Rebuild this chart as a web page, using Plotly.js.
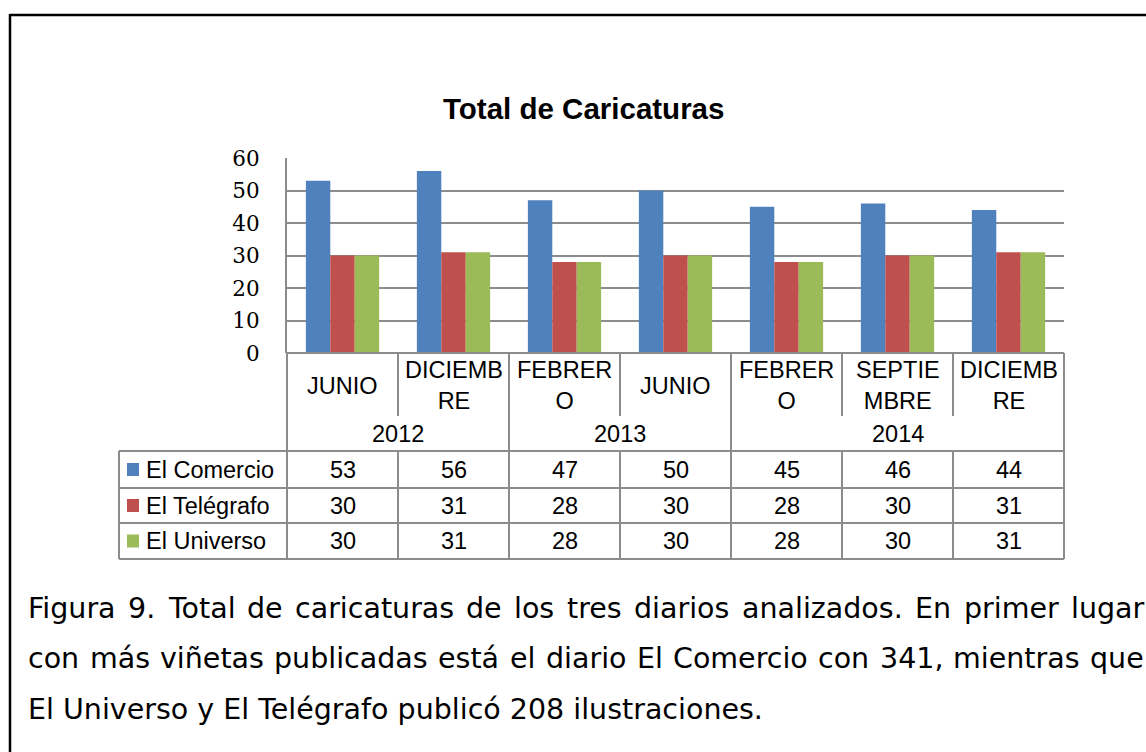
<!DOCTYPE html>
<html>
<head>
<meta charset="utf-8">
<script src="https://cdn.plot.ly/plotly-3.0.1.min.js"></script>
<style>html,body{margin:0;padding:0;background:#fff;}#chart{width:1146px;height:752px;}</style>
</head>
<body>
<div id="chart"></div>
<script>
// ---- data ----
const categoryLabels = ['JUNIO', 'DICIEMB<br>RE', 'FEBRER<br>O', 'JUNIO', 'FEBRER<br>O', 'SEPTIE<br>MBRE', 'DICIEMB<br>RE'];
const years = ['2012', '2012', '2013', '2013', '2014', '2014', '2014'];
const seriesNames = ['El Comercio', 'El Telégrafo', 'El Universo'];
const elComercio = [53, 56, 47, 50, 45, 46, 44];
const elTelegrafo = [30, 31, 28, 30, 28, 30, 31];
const elUniverso = [30, 31, 28, 30, 28, 30, 31];
const seriesColors = ['#4F81BD', '#C0504D', '#9BBB59'];
const chartTitle = 'Total de Caricaturas';
const captionLines = [
  'Figura 9. Total de caricaturas de los tres diarios analizados. En primer lugar',
  'con más viñetas publicadas está el diario El Comercio con 341, mientras que',
  'El Universo y El Telégrafo publicó 208 ilustraciones.'
];

// ---- layout geometry (pixels) ----
const W = 1146, H = 752;
const PL = 287, PR = 1064, PT = 158, PB = 353;
const px = x => (x - PL) / (PR - PL);
const py = y => (PB - y) / (PB - PT);
const N = categoryLabels.length;
const xIdx = categoryLabels.map((_, i) => i);
const xb = k => PL + (PR - PL) * k / N; // boundary pixel
const rowCat = [353, 416], rowYear = [416, 451];
const rowData = [[451, 488], [488, 523], [523, 559]];
const legendLeft = 119;
const GRID = '#8c8c8c';
const FONT = 'Liberation Sans, Arial, sans-serif';
const TSIZE = 23.5;

const seriesValues = [elComercio, elTelegrafo, elUniverso];
const traces = seriesNames.map((name, s) => ({
  type: 'bar', name: name, x: xIdx, y: seriesValues[s],
  marker: {color: seriesColors[s], line: {width: 0}},
  hoverinfo: 'skip'
}));

const shapes = [];
const ann = [];
function hline(y, x0, x1, color, w) {
  shapes.push({type: 'line', xref: 'paper', yref: 'paper', x0: px(x0), x1: px(x1), y0: py(y), y1: py(y),
    line: {color: color || GRID, width: w || 2}});
}
function vline(x, y0, y1, color, w) {
  shapes.push({type: 'line', xref: 'paper', yref: 'paper', x0: px(x), x1: px(x), y0: py(y0), y1: py(y1),
    line: {color: color || GRID, width: w || 2}});
}

// outer frame
hline(15, 10, 1150, '#000', 2.5);
vline(10, 14, 760, '#000', 2.5);

// table grid
hline(353, PL, PR);
rowData.forEach(r => hline(r[1], legendLeft, PR));
hline(rowData[0][0], legendLeft, PR);
vline(legendLeft, rowData[0][0], rowData[2][1]);
vline(PL, 353, rowData[2][1]);
vline(PR, 353, rowData[2][1]);
for (let k = 1; k < N; k++) {
  const yearBoundary = years[k] !== years[k - 1];
  if (yearBoundary) {
    vline(xb(k), 353, rowData[2][1]);
  } else {
    vline(xb(k), rowCat[0], rowCat[1]);
    vline(xb(k), rowData[0][0], rowData[2][1]);
  }
}

// category labels
categoryLabels.forEach((lab, i) => {
  ann.push({xref: 'x', yref: 'paper', x: i, y: py((rowCat[0] + rowCat[1]) / 2 + 1), text: lab,
    showarrow: false, xanchor: 'center', yanchor: 'middle',
    font: {family: FONT, size: TSIZE, color: '#000'}});
});
// year groups
let start = 0;
for (let k = 1; k <= N; k++) {
  if (k === N || years[k] !== years[start]) {
    ann.push({xref: 'x', yref: 'paper', x: (start + k - 1) / 2, y: py((rowYear[0] + rowYear[1]) / 2),
      text: years[start], showarrow: false, xanchor: 'center', yanchor: 'middle',
      font: {family: FONT, size: TSIZE, color: '#000'}});
    start = k;
  }
}
// data rows + legend
seriesNames.forEach((name, s) => {
  const cy = (rowData[s][0] + rowData[s][1]) / 2;
  shapes.push({type: 'rect', xref: 'paper', yref: 'paper', x0: px(127), x1: px(139),
    y0: py(cy - 6.5), y1: py(cy + 6.5), fillcolor: seriesColors[s], line: {width: 0}});
  ann.push({xref: 'paper', yref: 'paper', x: px(144), y: py(cy), text: name, showarrow: false,
    xanchor: 'left', yanchor: 'middle', font: {family: FONT, size: TSIZE, color: '#000'}});
  seriesValues[s].forEach((v, i) => {
    ann.push({xref: 'x', yref: 'paper', x: i, y: py(cy), text: String(v), showarrow: false,
      xanchor: 'center', yanchor: 'middle', font: {family: FONT, size: TSIZE, color: '#000'}});
  });
});

// title
ann.push({xref: 'paper', yref: 'paper', x: px(583), y: py(108), text: '<b>' + chartTitle + '</b>',
  showarrow: false, xanchor: 'center', yanchor: 'middle', font: {family: FONT, size: 29.5, color: '#000'}});

// caption (justified lines 1-2)
const CAPFONT = 'DejaVu Sans, sans-serif';
const capSize = 28.5, capLeft = 26, capRight = 1142;
const capY = [608, 658, 709];
const ctx = document.createElement('canvas').getContext('2d');
ctx.font = capSize + 'px "DejaVu Sans", sans-serif';
captionLines.forEach((line, li) => {
  const justify = li < captionLines.length - 1;
  if (!justify) {
    ann.push({xref: 'paper', yref: 'paper', x: px(capLeft), y: py(capY[li]), text: line, showarrow: false,
      xanchor: 'left', yanchor: 'middle', font: {family: CAPFONT, size: capSize, color: '#000'}});
    return;
  }
  const words = line.split(' ');
  const widths = words.map(w => ctx.measureText(w).width);
  const total = widths.reduce((a, b) => a + b, 0);
  const gap = (capRight - capLeft - total) / (words.length - 1);
  let x = capLeft;
  words.forEach((w, wi) => {
    ann.push({xref: 'paper', yref: 'paper', x: px(x), y: py(capY[li]), text: w, showarrow: false,
      xanchor: 'left', yanchor: 'middle', font: {family: CAPFONT, size: capSize, color: '#000'}});
    x += widths[wi] + gap;
  });
});

const layout = {
  width: W, height: H,
  margin: {l: PL, r: W - PR, t: PT, b: H - PB, pad: 0},
  paper_bgcolor: '#fff', plot_bgcolor: '#fff',
  showlegend: false,
  barmode: 'group', bargap: 0.34, bargroupgap: 0,
  xaxis: {range: [-0.5, N - 0.5], showticklabels: false, showgrid: false, zeroline: false, showline: false, fixedrange: true},
  yaxis: {range: [0, 60], dtick: 10, showgrid: true, gridcolor: GRID, gridwidth: 2,
    showline: true, linecolor: GRID, linewidth: 2, zeroline: false, ticks: '',
    ticklabelstandoff: 21,
    tickfont: {family: 'DejaVu Serif, serif', size: 21.5, color: '#000'}, fixedrange: true},
  shapes: shapes,
  annotations: ann
};
Plotly.newPlot('chart', traces, layout, {staticPlot: true, displayModeBar: false});
</script>
</body>
</html>
